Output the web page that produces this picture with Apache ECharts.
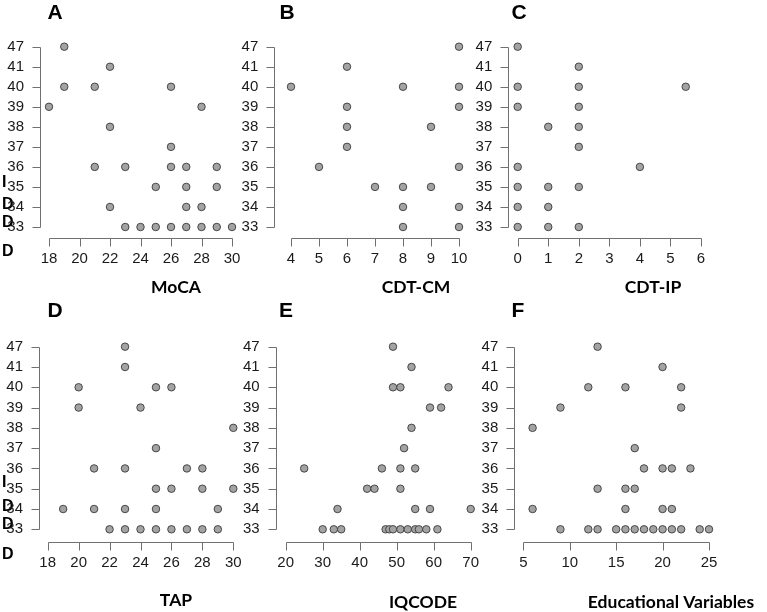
<!DOCTYPE html>
<html><head><meta charset="utf-8">
<script src="https://cdn.jsdelivr.net/npm/echarts@6/dist/echarts.min.js"></script>
<style>html,body{margin:0;padding:0;background:#fff}#c{width:767px;height:612px}</style>
</head><body><div id="c"></div>
<script>
const yLabels = ['33','34','35','36','37','38','39','40','41','47'];

const mocaTicks = [18,20,22,24,26,28,30];
const cdtcmTicks = [4,5,6,7,8,9,10];
const cdtipTicks = [0,1,2,3,4,5,6];
const tapTicks = [18,20,22,24,26,28,30];
const iqcodeTicks = [20,30,40,50,60,70];
const eduTicks = [5,10,15,20,25];

const mocaPoints = [[19,'47'],[22,'41'],[19,'40'],[21,'40'],[26,'40'],[18,'39'],[28,'39'],[22,'38'],[26,'37'],
  [21,'36'],[23,'36'],[26,'36'],[27,'36'],[29,'36'],[25,'35'],[27,'35'],[29,'35'],[22,'34'],[27,'34'],[28,'34'],
  [23,'33'],[24,'33'],[25,'33'],[26,'33'],[27,'33'],[28,'33'],[29,'33'],[30,'33']];
const cdtcmPoints = [[10,'47'],[6,'41'],[4,'40'],[8,'40'],[10,'40'],[6,'39'],[10,'39'],[6,'38'],[9,'38'],[6,'37'],
  [5,'36'],[10,'36'],[7,'35'],[8,'35'],[9,'35'],[8,'34'],[10,'34'],[8,'33'],[10,'33']];
const cdtipPoints = [[0,'47'],[2,'41'],[0,'40'],[2,'40'],[5.5,'40'],[0,'39'],[2,'39'],[1,'38'],[2,'38'],[2,'37'],
  [0,'36'],[4,'36'],[0,'35'],[1,'35'],[2,'35'],[0,'34'],[1,'34'],[0,'33'],[1,'33'],[2,'33']];
const tapPoints = [[23,'47'],[23,'41'],[20,'40'],[25,'40'],[26,'40'],[20,'39'],[24,'39'],[30,'38'],[25,'37'],
  [21,'36'],[23,'36'],[27,'36'],[28,'36'],[25,'35'],[26,'35'],[28,'35'],[30,'35'],
  [19,'34'],[21,'34'],[23,'34'],[25,'34'],[29,'34'],
  [22,'33'],[23,'33'],[24,'33'],[25,'33'],[26,'33'],[27,'33'],[28,'33'],[29,'33']];
const iqcodePoints = [[49,'47'],[54,'41'],[49,'40'],[51,'40'],[64,'40'],[59,'39'],[62,'39'],[54,'38'],[52,'37'],
  [25,'36'],[46,'36'],[51,'36'],[55,'36'],[42,'35'],[44,'35'],[51,'35'],[34,'34'],[55,'34'],[59,'34'],[70,'34'],
  [30,'33'],[33,'33'],[35,'33'],[47,'33'],[48,'33'],[49,'33'],[51,'33'],[53,'33'],[55,'33'],[56,'33'],[58,'33'],[61,'33']];
const eduPoints = [[13,'47'],[20,'41'],[12,'40'],[16,'40'],[22,'40'],[9,'39'],[22,'39'],[6,'38'],[17,'37'],
  [18,'36'],[20,'36'],[21,'36'],[23,'36'],[13,'35'],[16,'35'],[17,'35'],[6,'34'],[16,'34'],[20,'34'],[21,'34'],
  [9,'33'],[12,'33'],[13,'33'],[15,'33'],[16,'33'],[17,'33'],[18,'33'],[19,'33'],[20,'33'],[21,'33'],[22,'33'],[24,'33'],[25,'33']];

const panelLetters = ['A','B','C','D','E','F'];
const axisTitles = ['MoCA','CDT-CM','CDT-IP','TAP','IQCODE','Educational Variables'];
const ticksList = [mocaTicks, cdtcmTicks, cdtipTicks, tapTicks, iqcodeTicks, eduTicks];
const pointsList = [mocaPoints, cdtcmPoints, cdtipPoints, tapPoints, iqcodePoints, eduPoints];

const panels = [
  {left:49, top:46.7, width:183, height:180.3, yOff:9, xOff:10.7},
  {left:291, top:46.7, width:168, height:180.3, yOff:16.7, xOff:10.7},
  {left:517.7, top:46.7, width:183.3, height:180.3, yOff:9.4, xOff:10.7},
  {left:47.7, top:346.7, width:185.6, height:182.6, yOff:8.7, xOff:12.4},
  {left:285.7, top:346.7, width:185, height:182.6, yOff:10, xOff:12.4},
  {left:523.3, top:346.7, width:185.7, height:182.6, yOff:9, xOff:12.4}
];
const letterPos = [[55,13],[287,13],[519,13],[55,311],[286,311],[518,311]];
const titlePos = [[176,287],[416,287],[653,287],[176,600],[423,602],[671,602]];
const sideLetters = [[183,'I'],[205,'D'],[223,'D'],[252,'D'],[483,'I'],[507,'D'],[525,'D'],[555,'D']];

const axisColor = '#707070';
const labelFont = {fontFamily:'Liberation Sans', fontSize:15, color:'#1a1a1a'};

function axisX(i, g){
  const t = ticksList[i];
  return {type:'value', gridIndex:i, position:'bottom', offset:g.xOff,
    min:t[0], max:t[t.length-1], interval:t[1]-t[0],
    axisLine:{show:false, onZero:false}, axisTick:{show:false},
    axisLabel:Object.assign({margin:14, showMinLabel:true, showMaxLabel:true}, labelFont),
    splitLine:{show:false}};
}
function axisY(i, g){
  return {type:'category', gridIndex:i, position:'left', offset:g.yOff, data:yLabels, boundaryGap:false,
    axisLine:{show:false, onZero:false}, axisTick:{show:false},
    axisLabel:Object.assign({margin:16, interval:0}, labelFont),
    splitLine:{show:false}};
}
// R-style axis lines and ticks, drawn through the library's coordinate system
function axisFrame(i, g){
  const t = ticksList[i];
  return {type:'custom', xAxisIndex:i, yAxisIndex:i, data:[[t[0], 0]], clip:false, z:10, silent:true,
    renderItem:(params, api)=>{
      const crisp = v => Math.round(v) + 0.5;
      const bl = api.coord([t[0], 0]);
      const br = api.coord([t[t.length-1], 0]);
      const tl = api.coord([t[0], yLabels.length-1]);
      const yLine = crisp(bl[1] + g.xOff);
      const xLine = crisp(bl[0] - g.yOff);
      const style = {stroke:axisColor, lineWidth:1, fill:null};
      const children = [];
      children.push({type:'line', shape:{x1:crisp(bl[0]), y1:yLine, x2:crisp(br[0]), y2:yLine}, style});
      t.forEach(v=>{
        const x = crisp(api.coord([v, 0])[0]);
        children.push({type:'line', shape:{x1:x, y1:yLine, x2:x, y2:yLine+8}, style});
      });
      children.push({type:'line', shape:{x1:xLine, y1:crisp(bl[1]), x2:xLine, y2:crisp(tl[1])}, style});
      yLabels.forEach((lab, k)=>{
        const y = crisp(api.coord([t[0], k])[1]);
        children.push({type:'line', shape:{x1:xLine-8, y1:y, x2:xLine, y2:y}, style});
      });
      return {type:'group', children};
    }};
}

const chart = echarts.init(document.getElementById('c'), null, {renderer:'canvas'});
chart.setOption({
  animation:false,
  grid: panels.map(g=>({left:g.left, top:g.top, width:g.width, height:g.height, containLabel:false})),
  xAxis: panels.map((g,i)=>axisX(i,g)),
  yAxis: panels.map((g,i)=>axisY(i,g)),
  series: panels.map((g,i)=>({type:'scatter', xAxisIndex:i, yAxisIndex:i, data:pointsList[i], clip:false,
    symbol:'circle', symbolSize:7.5,
    itemStyle:{color:'#a3a3a3', borderColor:'#3a3a3a', borderWidth:0.9, opacity:1},
    emphasis:{disabled:true}})).concat(panels.map((g,i)=>axisFrame(i,g))),
  graphic: [].concat(
    panelLetters.map((t,i)=>({type:'text', x:letterPos[i][0], y:letterPos[i][1],
      style:{text:t, fontFamily:'Liberation Sans', fontWeight:'bold', fontSize:21, fill:'#000', align:'center', verticalAlign:'middle'}})),
    axisTitles.map((t,i)=>({type:'text', x:titlePos[i][0], y:titlePos[i][1],
      style:{text:t, fontFamily:'Lato', fontWeight:'bold', fontSize:17.5, fill:'#000', align:'center', verticalAlign:'middle'}})),
    sideLetters.map(p=>({type:'text', x:2, y:p[0],
      style:{text:p[1], fontFamily:'Liberation Sans', fontWeight:'bold', fontSize:16, fill:'#000', align:'left', verticalAlign:'middle'}}))
  )
});
</script></body></html>
